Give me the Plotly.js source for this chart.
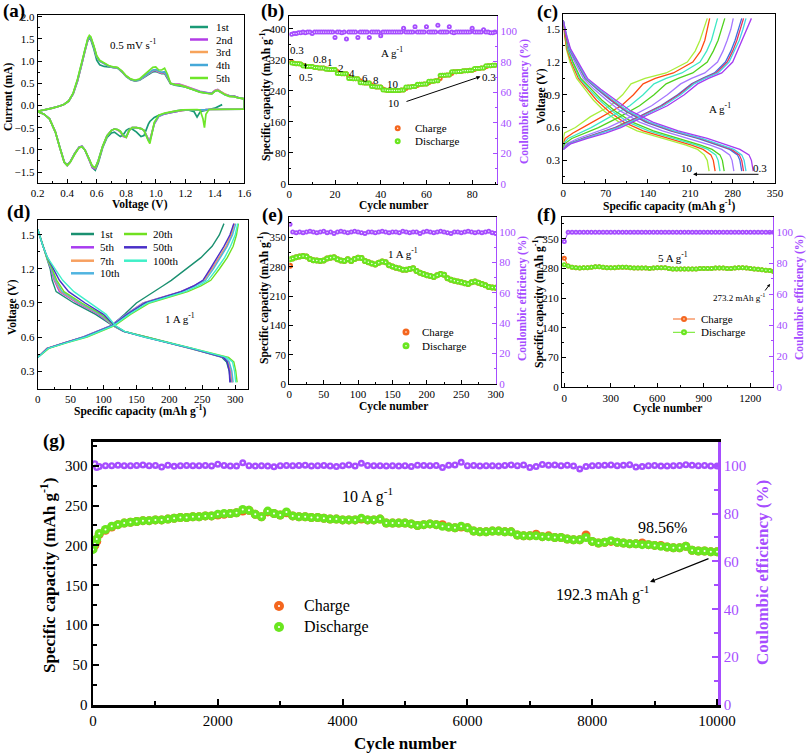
<!DOCTYPE html>
<html><head><meta charset="utf-8">
<script src="https://cdn.plot.ly/plotly-3.0.1.min.js"></script>
<style>html,body{margin:0;padding:0;background:#fff}#plot{width:808px;height:755px}</style>
</head><body><div id="plot"></div>
<script>
// ---------------- DATA ----------------
// (a) CV curves
const cvNames = ['1st','2nd','3rd','4th','5th'];
const VA = [0.20,0.25,0.30,0.35,0.38,0.41,0.44,0.47,0.50,0.52,0.54,0.55,0.56,0.58,0.60,0.62,0.65,0.68,0.71,0.74,0.77,0.80,0.83,0.86,0.89,0.92,0.95,0.98,1.00,1.02,1.04,1.06,1.08,1.10,1.13,1.16,1.20,1.25,1.30,1.35,1.38,1.40,1.42,1.44,1.47,1.50,1.53,1.56,1.60];
const VC = [1.60,1.55,1.50,1.45,1.40,1.36,1.34,1.33,1.32,1.30,1.28,1.26,1.22,1.18,1.14,1.10,1.06,1.02,0.99,0.97,0.96,0.95,0.93,0.92,0.90,0.87,0.84,0.82,0.80,0.78,0.76,0.74,0.72,0.70,0.67,0.64,0.61,0.59,0.57,0.55,0.52,0.50,0.48,0.45,0.42,0.40,0.38,0.35,0.32,0.28,0.24,0.20];
const IA1 = [-0.13,-0.1,-0.06,-0.01,0.03,0.1,0.26,0.55,0.95,1.25, 1.47,1.52,1.48,1.28,1.02,0.92,0.88,0.87,0.86,0.85, 0.76,0.65,0.58,0.55,0.57,0.63,0.7,0.76,0.77,0.74, 0.72,0.72,0.62,0.49,0.46,0.45,0.42,0.36,0.3,0.28, 0.27,0.33,0.35,0.31,0.25,0.22,0.21,0.18,0.15];
const IA2 = [-0.13,-0.1,-0.06,-0.01,0.03,0.1,0.26,0.56,0.96,1.26, 1.48,1.54,1.51,1.33,1.1,1.0,0.94,0.89,0.86,0.85, 0.77,0.66,0.59,0.56,0.58,0.64,0.72,0.78,0.79,0.75, 0.73,0.74,0.63,0.5,0.48,0.48,0.44,0.38,0.32,0.29, 0.28,0.34,0.36,0.31,0.25,0.22,0.21,0.18,0.15];
const IA3 = [-0.13,-0.1,-0.06,-0.01,0.03,0.1,0.27,0.57,0.97,1.27, 1.49,1.55,1.52,1.33,1.1,1.0,0.94,0.89,0.86,0.85, 0.77,0.66,0.59,0.56,0.58,0.65,0.73,0.79,0.8,0.76, 0.74,0.75,0.64,0.5,0.47,0.47,0.43,0.37,0.31,0.28, 0.27,0.33,0.35,0.31,0.25,0.21,0.2,0.17,0.15];
const IA4 = [-0.13,-0.1,-0.06,-0.01,0.03,0.1,0.27,0.58,0.98,1.28, 1.5,1.55,1.52,1.33,1.1,1.0,0.94,0.89,0.86,0.85, 0.77,0.66,0.59,0.56,0.58,0.65,0.74,0.8,0.81,0.77, 0.75,0.76,0.65,0.5,0.47,0.46,0.42,0.36,0.31,0.28, 0.27,0.32,0.34,0.3,0.24,0.21,0.2,0.17,0.15];
const IA5 = [-0.13,-0.1,-0.06,-0.01,0.03,0.1,0.28,0.6,1.0,1.3, 1.52,1.58,1.55,1.35,1.12,1.02,0.95,0.9,0.87,0.86, 0.78,0.67,0.6,0.57,0.6,0.68,0.78,0.86,0.87,0.8, 0.8,0.84,0.7,0.5,0.47,0.46,0.42,0.36,0.3,0.27, 0.26,0.32,0.34,0.3,0.24,0.2,0.2,0.17,0.15];
const IC1 = [null,null,null,0.02,-0.06, -0.09,-0.1,-0.11,-0.12,-0.15, -0.26,-0.14,-0.1,-0.11,-0.13, -0.16,-0.19,-0.22,-0.27,-0.32, -0.36,-0.42,-0.6,-0.68,-0.7, -0.6,-0.53,-0.52,-0.56,-0.66, -0.7,-0.64,-0.6,-0.62,-0.72, -0.95,-1.3,-1.46,-1.4,-1.22, -1.0,-0.92,-0.94,-1.08,-1.27, -1.34,-1.27,-0.94,-0.6,-0.3, -0.19,-0.14];
const IC2 = [-0.08,-0.08,-0.08,-0.08,-0.08, -0.09,-0.09,-0.1,-0.1,-0.09, -0.09,-0.09,-0.1,-0.11,-0.13, -0.16,-0.19,-0.25,-0.42,-0.65, -0.78,-0.76,-0.62,-0.56,-0.52, -0.5,-0.5,-0.56,-0.72,-0.7, -0.6,-0.55,-0.53,-0.56,-0.68, -0.93,-1.26,-1.43,-1.4,-1.23, -1.0,-0.92,-0.94,-1.09,-1.27, -1.35,-1.28,-0.95,-0.6,-0.3, -0.19,-0.14];
const IC3 = [-0.08,-0.08,-0.08,-0.08,-0.08, -0.09,-0.09,-0.1,-0.1,-0.09, -0.09,-0.09,-0.1,-0.11,-0.12, -0.15,-0.18,-0.24,-0.4,-0.66, -0.79,-0.77,-0.62,-0.56,-0.52, -0.5,-0.5,-0.56,-0.71,-0.69, -0.59,-0.54,-0.53,-0.56,-0.68, -0.92,-1.25,-1.41,-1.38,-1.22, -1.0,-0.93,-0.95,-1.1,-1.28, -1.35,-1.28,-0.95,-0.6,-0.3, -0.19,-0.14];
const IC4 = [-0.08,-0.08,-0.08,-0.08,-0.08, -0.09,-0.09,-0.1,-0.1,-0.09, -0.09,-0.09,-0.1,-0.1,-0.12, -0.15,-0.18,-0.24,-0.4,-0.68, -0.8,-0.78,-0.62,-0.56,-0.52, -0.5,-0.5,-0.56,-0.7,-0.68, -0.58,-0.54,-0.53,-0.56,-0.68, -0.92,-1.24,-1.4,-1.37,-1.21, -1.0,-0.93,-0.95,-1.1,-1.28, -1.35,-1.28,-0.95,-0.6,-0.3, -0.19,-0.14];
const IC5 = [-0.08,-0.08,-0.08,-0.08,-0.08, -0.09,-0.2,-0.5,-0.3,-0.1, -0.09,-0.09,-0.09,-0.1,-0.12, -0.14,-0.17,-0.22,-0.38,-0.7, -0.86,-0.8,-0.62,-0.56,-0.52, -0.5,-0.5,-0.56,-0.72,-0.68, -0.58,-0.54,-0.53,-0.56,-0.68, -0.92,-1.25,-1.4,-1.36,-1.2, -1.0,-0.93,-0.95,-1.1,-1.28, -1.35,-1.28,-0.95,-0.6,-0.3, -0.19,-0.14];

// (b) rate performance
const cycB = [1,2,3,4,5,6,7,8,9,10,11,12,13,14,15,16,17,18,19,20,21,22,23,24,25,26,27,28,29,30,31,32,33,34,35,36,37,38,39,40,41,42,43,44,45,46,47,48,49,50,51,52,53,54,55,56,57,58,59,60,61,62,63,64,65,66,67,68,69,70,71,72,73,74,75,76,77,78,79,80,81,82,83,84,85,86,87,88,89,90];
const disB = [312,311,310,310,309, 304,304,303,303,303, 300,300,299,299,299, 296,296,295,295,295, 285,285,284,284,284, 272,272,271,271,271, 261,261,260,260,260, 251,251,250,250,250, 242,242,241,241,241,241,241,241,242,242, 250,250,250,251,251, 257,257,257,258,258, 265,265,265,266,266, 280,280,280,281,281, 289,289,289,290,290, 292,292,292,293,293, 298,298,298,299,299, 305,305,305,306,306];
const chaB = [316,311,310,310,309, 306,304,303,303,303, 301,300,299,299,299, 297,296,295,295,295, 290,285,284,284,284, 278,272,271,271,271, 266,261,260,260,260, 255,251,250,250,250, 245,242,241,241,241,241,241,241,242,242, 246,250,250,251,251, 254,257,257,258,258, 261,265,265,266,266, 272,280,280,281,281, 285,289,289,290,290, 291,292,292,293,293, 295,298,298,299,299, 302,305,305,306,306];
const ceB = [98,98.5,98.5,99,99,99.5,99,99.5,99.5,98.5, 99.5,99.5,99.5,99.5,99.5,99.5,99.5,99.5,99.5,96, 99.5,99.5,99,99.5,95,99.5,99.5,99.5,99.5,96, 99.5,99.5,99.5,99.5,96,99.5,99.5,99.5,99.5,97, 99.5,99.5,99.5,99.5,99.5,99.5,99.5,99.5,99.5,102, 99.5,99.5,99.5,99.5,103,99.5,99.5,99.5,99.5,103, 99.5,99.5,99.5,99.5,104,99.5,99.5,99.5,99.5,103, 99.5,99,99.5,99.5,99.5,99.5,99.5,99.5,99.5,102, 99.5,99.5,99.5,99.5,101,99.5,99.5,99,99,99.5];

// (c) charge/discharge profiles at different rates (A g-1)
const cRates = ['0.3','0.5','0.8','1','2','4','6','8','10'];
const cDisV = [1.58,1.45,1.32,1.2,1.05,0.95,0.85,0.75,0.65,0.57,0.5,0.44,0.4,0.35,0.3,0.2];
const cDis = [
 [0,5,12,24,40,62,86,112,148,190,238,272,292,307,311,314],
 [0,5,11,23,38,59,82,107,142,183,229,262,282,295,299,302],
 [0,4,11,22,37,58,80,105,139,180,226,258,278,291,295,298],
 [0,4,10,21,36,56,78,103,136,177,222,255,275,288,292,295],
 [0,4,9,19,33,51,72,95,126,164,208,243,262,275,279,282],
 [0,3,8,16,29,46,64,86,114,149,192,227,246,259,263,266],
 [0,3,7,15,27,43,60,81,107,141,184,220,239,252,256,259],
 [0,2,6,13,25,40,55,75,100,132,175,212,231,244,248,251],
 [0,2,5,11,22,36,50,68,92,122,165,203,222,233,238,241]];
const cChV = [0.4,0.45,0.5,0.55,0.6,0.7,0.8,0.9,1.0,1.05,1.1,1.2,1.3,1.4,1.5,1.6];
const cCh = [
 [0,12,40,70,95,135,172,200,222,240,262,280,288,296,304,311],
 [0,10,36,65,90,130,166,194,216,234,256,274,283,291,297,302],
 [0,9,34,62,87,127,163,191,214,232,253,271,280,287,293,298],
 [0,8,32,60,85,125,161,189,212,230,250,268,277,284,290,295],
 [0,5,24,50,74,112,146,172,194,212,234,255,264,271,277,281],
 [0,2,14,36,58,94,126,150,170,190,214,238,248,256,262,267],
 [0,0,8,26,46,78,110,132,150,170,196,226,237,245,250,255],
 [0,0,3,16,32,64,96,116,132,152,182,214,227,234,238,242],
 [0,0,0,2,20,45,78,98,112,135,170,205,218,226,232,238]];

// (d) profiles at 1 A g-1 for selected cycles
const dNames = ['1st','5th','7th','10th','20th','50th','100th'];
const dDisV = [1.55,1.4,1.3,1.2,1.1,1.0,0.9,0.8,0.7,0.65,0.6,0.5,0.42,0.38,0.3,0.2];
const dDis = [
 [0,8,14,19,22,28,55,88,114,130,165,232,280,287,291,293],
 [0,8,14,20,25,33,60,92,115,131,165,233,282,289,293,295],
 [0,8,14,21,26,35,62,94,115,131,165,233,283,290,294,296],
 [0,8,14,21,27,37,64,95,116,131,164,233,284,291,295,297],
 [0,8,14,22,29,40,67,97,117,132,166,238,290,298,301,303],
 [0,8,15,24,33,47,72,100,117,131,162,233,282,288,291,292],
 [0,8,15,26,38,55,80,104,118,132,162,235,287,296,299,301]];
const dChV = [0.42,0.5,0.55,0.6,0.7,0.8,0.9,1.0,1.05,1.1,1.2,1.3,1.4,1.5,1.6];
const dCh = [
 [0,15,42,70,112,132,150,178,190,203,225,248,265,276,283],
 [0,14,41,69,111,134,160,217,237,252,264,276,287,294,298],
 [0,14,41,70,112,135,161,218,238,253,265,276,286,294,299],
 [0,15,42,70,112,135,162,219,239,255,267,278,288,296,301],
 [0,17,45,75,117,141,170,228,248,263,276,288,297,302,305],
 [0,15,42,71,113,136,163,218,237,251,262,273,283,292,298],
 [0,16,44,73,115,139,167,224,244,259,272,284,293,300,304]];

// (e) cycling at 1 A g-1
const cycE = [1,5,10,15,20,25,30,35,40,45,50,55,60,65,70,75,80,85,90,95,100,105,110,115,120,125,130,135,140,145,150,155,160,165,170,175,180,185,190,195,200,205,210,215,220,225,230,235,240,245,250,255,260,265,270,275,280,285,290,295,300];
const disE = [298,300,303,305,306,305,299,296,295,294,295,300,302,303,298,295,294,298,294,299,302,301,294,291,288,286,290,293,291,284,281,278,276,273,273,275,277,270,266,263,260,258,256,260,263,261,253,249,247,245,243,241,239,243,245,242,239,236,232,231,230];
const chaE = [283,300,303,305,306,305,299,296,295,294,295,300,302,303,298,295,294,298,294,299,302,301,294,291,288,286,290,293,291,284,281,278,276,273,273,275,277,270,266,263,260,258,256,260,263,261,253,249,247,245,243,241,239,243,245,242,239,236,232,231,230];
const ceE = [105,100,99.5,100,99.5,100,100.5,100,99.5,100, 100.5,99.5,100,99,100,100.5,100,99.5,100,100.5, 100,99.5,99,100,100,99.5,100,100.5,100,99.5, 100,100,99.5,100.5,100,99.5,100,100,99,100, 100.5,100,99.5,100,100.5,100,99.5,99,100,100, 99.5,100,100.5,100,99.5,100,99.5,100,100.5,99.5, 99];

// (f) cycling at 5 A g-1
const cycF = [0,25,50,75,100,125,150,175,200,225,250,275,300,325,350,375,400,425,450,475,500,525,550,575,600,625,650,675,700,725,750,775,800,825,850,875,900,925,950,975,1000,1025,1050,1075,1100,1125,1150,1175,1200,1225,1250,1275,1300,1325,1350];
const disF = [289,286,283,282,281,282,282,283,284,284,283,282,282,282,283,283,283,282,281,281,281,281,280,281,282,282,282,280,279,279,279,279,279,279,279,280,280,280,280,281,281,281,280,280,281,282,282,281,280,279,278,277,276,275,273];
const chaF = [304,286,283,282,281,282,282,283,284,284,283,282,282,282,283,283,283,282,281,281,281,281,280,281,282,282,282,280,279,279,279,279,279,279,279,280,280,280,280,281,281,281,280,280,281,282,282,281,280,279,278,277,276,275,273];
const ceF = [94,100,100,100,100,100,100,100,100,100,100,100,100,100,100,100,100,100,100,100,100,100,100,100,100,100,100,100,100,100,100,100,100,100,100,100,100,100,100,100,100,100,100,100,100,100,100,100,100,100,100,100,100,100,100];

// (g) long cycling at 10 A g-1
const cycG = [1,30,60,100,200,300,400,500,600,700,800,900,1000,1100,1200,1300,1400,1500,1600,1700,1800,1900,2000,2100,2200,2300,2400,2500,2600,2700,2800,2900,3000,3100,3200,3300,3400,3500,3600,3700,3800,3900,4000,4100,4200,4300,4400,4500,4600,4700,4800,4900,5000,5100,5200,5300,5400,5500,5600,5700,5800,5900,6000,6100,6200,6300,6400,6500,6600,6700,6800,6900,7000,7100,7200,7300,7400,7500,7600,7700,7800,7900,8000,8100,8200,8300,8400,8500,8600,8700,8800,8900,9000,9100,9200,9300,9400,9500,9600,9700,9800,9900,10000];
const disG = [195,202,208,
 215,220,224,226,228,229,230,231,231,232,
 232,233,234,235,235,236,236,237,237,239,
 240,240,241,245,244,239,236,243,240,238,
 242,237,236,236,235,235,234,233,233,232,
 232,232,234,232,232,233,228,228,228,228,
 227,225,226,227,226,224,223,222,224,222,
 218,217,217,218,218,217,217,213,212,212,
 212,211,211,210,210,208,207,207,210,205,
 203,204,206,204,203,202,202,201,201,200,
 199,198,197,197,199,194,193,193,192,192];
const chaG = [198,200,205,
 214,219,223,226,228,229,230,231,231,232,
 232,233,234,235,235,236,236,237,237,238,
 239,240,241,243,244,239,236,242,240,238,
 241,237,236,236,235,235,234,233,233,232,
 232,232,233,232,232,233,228,228,228,228,
 227,225,226,227,226,226,223,222,223,222,
 218,217,217,218,218,217,217,213,212,212,
 214,211,212,210,210,208,207,207,213,205,
 203,204,205,204,203,202,202,203,201,200,
 200,198,197,197,199,194,193,193,192,192];
const ceG = [100.5,100.8,99.2,
 99.6,100,100,100.2,100,100,100.1,100.3,100,100.1,
 99.4,100.2,99.7,100,100.1,100,100,100.1,99.9,100.6,
 100.1,99.9,99.8,101.2,100,99.8,100,99.8,99.5,100,
 100.1,100,100.1,100.2,99.9,100,100.1,99.9,99.6,100,
 100.3,99.8,101,100.1,100,100,99.9,100,99.8,100,
 99.6,100.2,100.1,100,100.1,99.2,100.2,100.3,101.4,100,
 100.1,99.9,100,100,99.9,100.1,100.3,100,100.3,99.2,
 99.6,100.5,100.2,100.3,100,100.2,99.9,98.6,99.6,100,
 100.1,100.2,100.3,100,100.2,100.4,99.4,99.6,100,100.1,
 99.8,99.9,100,100.1,100.4,100.2,100,100.1,99.9,99.8];

// ---------------- STYLE ----------------
const W = 808, H = 755;
const X = p => p / W, Y = p => 1 - p / H;
const FONT = 'Liberation Serif, Times New Roman, serif';
const ORANGE = '#f4661e', GREEN = '#6ae61f', PURPLE = '#a64dff';
const cvColors = ['#1a9a76', '#b23ce6', '#f7a35a', '#45a8d8', '#6ee629'];
const cColors = ['#a63cf0', '#3fd6e6', '#e8345c', '#3b6fe0', '#a578ff', '#4fd21e', '#3ee8c4', '#ff4a12', '#a9ee3c'];
const dColors = ['#1a9070', '#a83cf0', '#f7a060', '#50b4e0', '#70e020', '#4a30c8', '#40f0c8'];

const traces = [];
function addLine(x, y, xa, ya, color, w) {
  traces.push({type: 'scatter', mode: 'lines', x, y, xaxis: xa, yaxis: ya,
    line: {color, width: w}, hoverinfo: 'skip', showlegend: false});
}
function addDots(x, y, xa, ya, color, size, dot, withLine) {
  traces.push({type: 'scatter', mode: withLine ? 'lines+markers' : 'markers', x, y, xaxis: xa, yaxis: ya,
    marker: {color, size, line: {width: 0}}, line: {color, width: 1},
    hoverinfo: 'skip', showlegend: false});
  if (dot) traces.push({type: 'scatter', mode: 'markers', x, y, xaxis: xa, yaxis: ya,
    marker: {color: '#ffffff', size: dot, line: {width: 0}}, hoverinfo: 'skip', showlegend: false});
}

// (a)
const IAs = [IA1, IA2, IA3, IA4, IA5], ICs = [IC1, IC2, IC3, IC4, IC5];
addLine(VC.concat(VA), IC1.concat(IA1), 'x', 'y', cvColors[0], 1.7);
for (let i = 1; i < 5; i++) addLine(VA.concat(VC), IAs[i].concat(ICs[i]), 'x', 'y', cvColors[i], 1.7);

// (b)
addDots(cycB, chaB, 'x2', 'y2', ORANGE, 5, 1.3);
addDots(cycB, disB, 'x2', 'y2', GREEN, 5, 1.3);
addDots(cycB, ceB, 'x2', 'y3', PURPLE, 5, 1.3);

// (c)
for (let i = cRates.length - 1; i >= 0; i--) {
  addLine(cDis[i], cDisV, 'x3', 'y4', cColors[i], 1.3);
  addLine(cCh[i], cChV, 'x3', 'y4', cColors[i], 1.3);
}

// (d)
for (let i = 0; i < dNames.length; i++) {
  addLine(dDis[i], dDisV, 'x4', 'y5', dColors[i], 1.4);
  addLine(dCh[i], dChV, 'x4', 'y5', dColors[i], 1.4);
}

// (e)
addDots(cycE, chaE, 'x5', 'y6', ORANGE, 6, 1.5);
addDots(cycE, disE, 'x5', 'y6', GREEN, 6, 1.5);
addDots(cycE, ceE, 'x5', 'y7', PURPLE, 5, 1.3);

// (f)
addDots(cycF, chaF, 'x6', 'y8', ORANGE, 5, 1.3, true);
addDots(cycF, disF, 'x6', 'y8', GREEN, 5, 1.3, true);
addDots(cycF, ceF, 'x6', 'y9', PURPLE, 5, 1.3, true);

// (g)
addDots(cycG, chaG, 'x7', 'y10', ORANGE, 9, 2);
addDots(cycG, disG, 'x7', 'y10', GREEN, 9, 2);
addDots(cycG, ceG, 'x7', 'y11', PURPLE, 7, 2.2);

// ---------------- AXES ----------------
function base(color, size, lw, tl, mtl, minorD) {
  return {showline: true, linecolor: color, linewidth: lw, ticks: 'inside', ticklen: tl, tickwidth: 1,
    tickcolor: color, showgrid: false, zeroline: false, automargin: false, fixedrange: true,
    tickfont: {family: FONT, size, color},
    minor: {ticks: 'inside', ticklen: mtl, tickwidth: 1, tickcolor: color, showgrid: false, dtick: minorD}};
}
function xAx(p0, p1, range, dtick, minorD, anchor, extra) {
  return Object.assign(base('#000', 11, 1, 4, 2, minorD), {domain: [X(p0), X(p1)], range, dtick, tick0: 0, anchor, mirror: true}, extra || {});
}
function yAx(p0, p1, range, dtick, minorD, anchor, extra) {
  return Object.assign(base('#000', 11, 1, 4, 2, minorD), {domain: [Y(p1), Y(p0)], range, dtick, tick0: 0, anchor}, extra || {});
}
function yRight(over, anchor, range, dtick, minorD, extra) {
  return Object.assign(base(PURPLE, 11, 1, 4, 2, minorD), {overlaying: over, side: 'right', anchor, range, dtick, tick0: 0}, extra || {});
}
const gStyle = (c, md) => ({linewidth: 2.5, ticklen: 6, tickwidth: 2, tickfont: {family: FONT, size: 15, color: c},
  minor: {ticks: 'inside', ticklen: 4, tickwidth: 2, tickcolor: c, showgrid: false, dtick: md}});

const layout = {
  width: W, height: H, margin: {l: 0, r: 0, t: 0, b: 0}, paper_bgcolor: '#fff', plot_bgcolor: 'rgba(0,0,0,0)',
  showlegend: false, font: {family: FONT, color: '#000'},
  xaxis: xAx(37.7, 244.3, [0.2, 1.6], 0.2, 0.1, 'y', {tickformat: '.1f'}),
  yaxis: yAx(15, 182.7, [-1.74, 2.04], 0.5, 0.25, 'x', {tickformat: '.1f', mirror: true}),
  xaxis2: xAx(289.3, 497.3, [0, 91], 20, 10, 'y2'),
  yaxis2: yAx(16, 184, [0, 433], 80, 40, 'x2'),
  yaxis3: yRight('y2', 'x2', [0, 110], 20, 10),
  xaxis3: xAx(563.3, 775, [0, 350], 70, 35, 'y4'),
  yaxis4: yAx(14, 182.7, [0.095, 1.64], 0.3, 0.15, 'x3', {tickformat: '.1f', mirror: true}),
  xaxis4: xAx(37.7, 248.3, [0, 320], 50, 25, 'y5'),
  yaxis5: yAx(220, 388.7, [0.144, 1.632], 0.3, 0.15, 'x4', {tickformat: '.1f', mirror: true}),
  xaxis5: xAx(289.3, 496, [0, 300.5], 50, 25, 'y6'),
  yaxis6: yAx(216.7, 384, [0, 400], 70, 35, 'x5'),
  yaxis7: yRight('y6', 'x5', [0, 110], 20, 10),
  xaxis6: xAx(562, 773.3, [-14.8, 1348], 300, 150, 'y8', {tickformat: 'd'}),
  yaxis8: yAx(216.7, 387.3, [0, 402], 70, 35, 'x6'),
  yaxis9: yRight('y8', 'x6', [0, 110], 20, 10),
  xaxis7: xAx(93, 718.3, [0, 10020], 2000, 1000, 'y10', Object.assign(gStyle('#000', 1000), {tickformat: 'd'})),
  yaxis10: yAx(441.7, 705, [0, 330], 50, 25, 'x7', gStyle('#000', 25)),
  yaxis11: yRight('y10', 'x7', [0, 110], 20, 10, gStyle(PURPLE, 10)),
  annotations: [], shapes: []
};

// ---------------- TEXT ----------------
const A = layout.annotations, S = layout.shapes;
function T(text, px, py, o) {
  A.push(Object.assign({text, x: X(px), y: Y(py), xref: 'paper', yref: 'paper', showarrow: false,
    xanchor: 'center', yanchor: 'middle', font: {family: FONT, size: 11, color: '#000'}}, o || {}));
}
function Tb(text, px, py, size, color, angle) {
  T('<b>' + text + '</b>', px, py, {font: {family: FONT, size, color: color || '#000'}, textangle: angle || 0});
}
function arrow(hx, hy, tx, ty, w, size) {
  A.push({text: '', x: X(hx), y: Y(hy), xref: 'paper', yref: 'paper', showarrow: true, ax: tx - hx, ay: ty - hy,
    arrowhead: 2, arrowsize: size || 1, arrowwidth: w || 1, arrowcolor: '#000'});
}
function legLine(x0, x1, y, color, w) {
  S.push({type: 'line', xref: 'paper', yref: 'paper', x0: X(x0), x1: X(x1), y0: Y(y), y1: Y(y), line: {color, width: w}});
}
function legDot(cx, cy, r, color, dr) {
  S.push({type: 'circle', xref: 'paper', yref: 'paper', xsizemode: 'pixel', ysizemode: 'pixel', xanchor: X(cx), yanchor: Y(cy),
    x0: -r, x1: r, y0: -r, y1: r, fillcolor: color, line: {width: 0}});
  if (dr) S.push({type: 'circle', xref: 'paper', yref: 'paper', xsizemode: 'pixel', ysizemode: 'pixel', xanchor: X(cx), yanchor: Y(cy),
    x0: -dr, x1: dr, y0: -dr, y1: dr, fillcolor: '#fff', line: {width: 0}});
}
const SUP = '<sup>-1</sup>';
const TS = 11.5;

// panel labels
Tb('(a)', 14, 11, 19); Tb('(b)', 272, 11, 19); Tb('(c)', 547, 12, 19);
Tb('(d)', 18, 212, 19); Tb('(e)', 272, 215, 19); Tb('(f)', 546, 215, 19); Tb('(g)', 54, 441, 19);

// (a)
Tb('Current (mA)', 9, 97, TS, '#000', -90);
Tb('Voltage (V)', 140, 204, TS);
T('0.5 mV s' + SUP, 133, 44);
[27, 39.5, 52, 65, 78].forEach((y, i) => { legLine(190, 208, y, cvColors[i], 2.5); T(cvNames[i], 214, y, {xanchor: 'left'}); });

// (b)
Tb('Specific capacity (mAh g' + SUP + ')', 266, 95, TS, '#000', -90);
Tb('Coulombic efficiency (%)', 524, 102, TS, PURPLE, -90);
Tb('Cycle number', 393, 205, TS);
T('A g' + SUP, 392, 52);
T('0.3', 297, 50); T('0.5', 306, 77); arrow(305.5, 63, 305.5, 70, 1, 0.6);
T('0.8', 319.5, 58.7); T('1', 329.5, 62); T('2', 340.7, 67.7); T('4', 352.3, 72.7);
T('6', 365, 77.7); T('8', 376.3, 80.3); T('10', 393, 84.3); T('10', 394, 103.5);
arrow(480.5, 76.5, 405, 102, 1, 0.8); T('0.3', 489, 76.5);
legDot(397.7, 128.3, 3, ORANGE, 0.7); T('Charge', 413, 128.3, {xanchor: 'left'});
legDot(397.7, 141.3, 3, GREEN, 0.7); T('Discharge', 413, 141.3, {xanchor: 'left'});

// (c)
Tb('Voltage (V)', 541, 96, TS, '#000', -90);
Tb('Specific capacity (mAh g' + SUP + ')', 669, 205, TS);
T('A g' + SUP, 720, 108);
T('10', 687, 168); T('0.3', 760, 168);
arrow(693, 174.3, 760, 174.3, 1, 0.8);

// (d)
Tb('Voltage (V)', 13, 307, TS, '#000', -90);
Tb('Specific capacity (mAh g' + SUP + ')', 140, 410, TS);
T('1 A g' + SUP, 180, 318);
const dLeg = [[0, 71, 234], [1, 71, 247.3], [2, 71, 260.7], [3, 71, 273.3], [4, 124, 234], [5, 124, 247.3], [6, 124, 260.7]];
dLeg.forEach(([i, x, y]) => { legLine(x, x + 23, y, dColors[i], 2.5); T(dNames[i], x + 27, y, {xanchor: 'left'}); });

// (e)
Tb('Specific capacity (mAh g' + SUP + ')', 264, 298, TS, '#000', -90);
Tb('Coulombic efficiency (%)', 522, 299, TS, PURPLE, -90);
Tb('Cycle number', 393, 406, TS);
T('1 A g' + SUP, 403, 253);
legDot(406, 332, 3.5, ORANGE, 0.8); T('Charge', 420, 332, {xanchor: 'left'});
legDot(406, 345.7, 3.5, GREEN, 0.8); T('Discharge', 420, 345.7, {xanchor: 'left'});

// (f)
Tb('Specific capacity (mAh g' + SUP + ')', 538, 302, TS, '#000', -90);
Tb('Coulombic efficiency (%)', 800, 298, TS, PURPLE, -90);
Tb('Cycle number', 667, 409, TS);
T('5 A g' + SUP, 673, 257);
T('273.2 mAh g' + SUP, 739, 297, {font: {family: FONT, size: 9, color: '#000'}});
arrow(770, 284, 764, 292, 1, 0.6);
legLine(673, 695, 319, ORANGE, 1); legDot(684, 319, 3, ORANGE, 0.7); T('Charge', 699.3, 319, {xanchor: 'left'});
legLine(673, 695, 332.3, GREEN, 1); legDot(684, 332.3, 3, GREEN, 0.7); T('Discharge', 699.3, 332.3, {xanchor: 'left'});

// (g)
Tb('Specific capacity (mAh g' + SUP + ')', 48, 576, 17, '#000', -90);
Tb('Coulombic efficiency (%)', 762, 573, 17, PURPLE, -90);
Tb('Cycle number', 405, 743, 17);
T('10 A g' + SUP, 367, 496, {font: {family: FONT, size: 16, color: '#000'}});
T('98.56%', 662, 527, {font: {family: FONT, size: 16, color: '#000'}});
T('192.3 mAh g' + SUP, 602, 593, {font: {family: FONT, size: 16, color: '#000'}});
arrow(650, 582, 710, 558, 1.2, 0.8);
legDot(279, 606, 5, ORANGE, 1.1); T('Charge', 302, 606, {xanchor: 'left', font: {family: FONT, size: 16, color: '#000'}});
legDot(279, 627, 5, GREEN, 1.1); T('Discharge', 302, 627, {xanchor: 'left', font: {family: FONT, size: 16, color: '#000'}});

Plotly.newPlot('plot', traces, layout, {displayModeBar: false, staticPlot: true});
</script></body></html>
